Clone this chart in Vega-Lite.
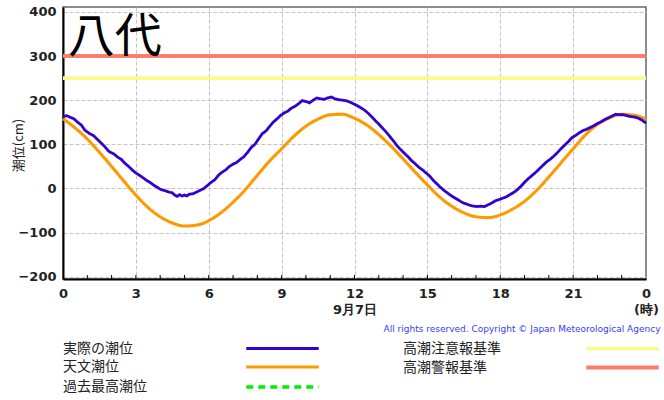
{
  "$schema": "https://vega.github.io/schema/vega-lite/v6.json",
  "width": 583,
  "height": 272,
  "autosize": {"type": "none"},
  "padding": {"left": 63, "top": 7, "right": 18, "bottom": 121},
  "background": "white",
  "datasets": {
    "levels": [
      {"series": "高潮注意報基準", "cm": 250},
      {"series": "高潮警報基準", "cm": 300}
    ],
    "hours": [
      {"hour": 1}, {"hour": 2}, {"hour": 3}, {"hour": 4}, {"hour": 5}, {"hour": 6},
      {"hour": 7}, {"hour": 8}, {"hour": 9}, {"hour": 10}, {"hour": 11}, {"hour": 12},
      {"hour": 13}, {"hour": 14}, {"hour": 15}, {"hour": 16}, {"hour": 17}, {"hour": 18},
      {"hour": 19}, {"hour": 20}, {"hour": 21}, {"hour": 22}, {"hour": 23}
    ],
    "tide": [
      {"series": "天文潮位", "hour": 0, "cm": 158},
      {"series": "天文潮位", "hour": 0.5, "cm": 137},
      {"series": "天文潮位", "hour": 1, "cm": 112},
      {"series": "天文潮位", "hour": 1.5, "cm": 82},
      {"series": "天文潮位", "hour": 2, "cm": 50},
      {"series": "天文潮位", "hour": 2.5, "cm": 17},
      {"series": "天文潮位", "hour": 3, "cm": -15},
      {"series": "天文潮位", "hour": 3.5, "cm": -43},
      {"series": "天文潮位", "hour": 4, "cm": -64},
      {"series": "天文潮位", "hour": 4.5, "cm": -78},
      {"series": "天文潮位", "hour": 5, "cm": -85},
      {"series": "天文潮位", "hour": 5.5, "cm": -83},
      {"series": "天文潮位", "hour": 6, "cm": -73},
      {"series": "天文潮位", "hour": 6.5, "cm": -55},
      {"series": "天文潮位", "hour": 7, "cm": -31},
      {"series": "天文潮位", "hour": 7.5, "cm": -3},
      {"series": "天文潮位", "hour": 8, "cm": 30},
      {"series": "天文潮位", "hour": 8.5, "cm": 62},
      {"series": "天文潮位", "hour": 9, "cm": 90},
      {"series": "天文潮位", "hour": 9.5, "cm": 118},
      {"series": "天文潮位", "hour": 10, "cm": 141},
      {"series": "天文潮位", "hour": 10.5, "cm": 157},
      {"series": "天文潮位", "hour": 11, "cm": 167},
      {"series": "天文潮位", "hour": 11.5, "cm": 168},
      {"series": "天文潮位", "hour": 12, "cm": 159},
      {"series": "天文潮位", "hour": 12.5, "cm": 144},
      {"series": "天文潮位", "hour": 13, "cm": 122},
      {"series": "天文潮位", "hour": 13.5, "cm": 96},
      {"series": "天文潮位", "hour": 14, "cm": 67},
      {"series": "天文潮位", "hour": 14.5, "cm": 37},
      {"series": "天文潮位", "hour": 15, "cm": 8},
      {"series": "天文潮位", "hour": 15.5, "cm": -19},
      {"series": "天文潮位", "hour": 16, "cm": -40},
      {"series": "天文潮位", "hour": 16.5, "cm": -55},
      {"series": "天文潮位", "hour": 17, "cm": -64},
      {"series": "天文潮位", "hour": 17.5, "cm": -66},
      {"series": "天文潮位", "hour": 18, "cm": -60},
      {"series": "天文潮位", "hour": 18.5, "cm": -47},
      {"series": "天文潮位", "hour": 19, "cm": -29},
      {"series": "天文潮位", "hour": 19.5, "cm": -4},
      {"series": "天文潮位", "hour": 20, "cm": 26},
      {"series": "天文潮位", "hour": 20.5, "cm": 58},
      {"series": "天文潮位", "hour": 21, "cm": 90},
      {"series": "天文潮位", "hour": 21.5, "cm": 121},
      {"series": "天文潮位", "hour": 22, "cm": 145},
      {"series": "天文潮位", "hour": 22.5, "cm": 160},
      {"series": "天文潮位", "hour": 23, "cm": 168},
      {"series": "天文潮位", "hour": 23.5, "cm": 166},
      {"series": "天文潮位", "hour": 24, "cm": 157},
      {"series": "実際の潮位", "hour": 0, "cm": 163},
      {"series": "実際の潮位", "hour": 0.15, "cm": 165},
      {"series": "実際の潮位", "hour": 0.3, "cm": 161},
      {"series": "実際の潮位", "hour": 0.45, "cm": 158},
      {"series": "実際の潮位", "hour": 0.6, "cm": 150},
      {"series": "実際の潮位", "hour": 0.75, "cm": 144},
      {"series": "実際の潮位", "hour": 0.9, "cm": 132},
      {"series": "実際の潮位", "hour": 1.0, "cm": 128},
      {"series": "実際の潮位", "hour": 1.1, "cm": 124},
      {"series": "実際の潮位", "hour": 1.25, "cm": 120},
      {"series": "実際の潮位", "hour": 1.4, "cm": 112},
      {"series": "実際の潮位", "hour": 1.55, "cm": 104},
      {"series": "実際の潮位", "hour": 1.7, "cm": 96},
      {"series": "実際の潮位", "hour": 1.85, "cm": 86},
      {"series": "実際の潮位", "hour": 1.95, "cm": 82},
      {"series": "実際の潮位", "hour": 2.1, "cm": 78},
      {"series": "実際の潮位", "hour": 2.25, "cm": 71},
      {"series": "実際の潮位", "hour": 2.4, "cm": 66},
      {"series": "実際の潮位", "hour": 2.55, "cm": 57},
      {"series": "実際の潮位", "hour": 2.7, "cm": 50},
      {"series": "実際の潮位", "hour": 2.85, "cm": 42},
      {"series": "実際の潮位", "hour": 3.0, "cm": 35},
      {"series": "実際の潮位", "hour": 3.15, "cm": 30},
      {"series": "実際の潮位", "hour": 3.3, "cm": 24},
      {"series": "実際の潮位", "hour": 3.45, "cm": 18},
      {"series": "実際の潮位", "hour": 3.6, "cm": 13},
      {"series": "実際の潮位", "hour": 3.75, "cm": 7},
      {"series": "実際の潮位", "hour": 3.9, "cm": 2},
      {"series": "実際の潮位", "hour": 4.05, "cm": -3},
      {"series": "実際の潮位", "hour": 4.2, "cm": -5},
      {"series": "実際の潮位", "hour": 4.35, "cm": -8},
      {"series": "実際の潮位", "hour": 4.5, "cm": -10},
      {"series": "実際の潮位", "hour": 4.6, "cm": -15},
      {"series": "実際の潮位", "hour": 4.7, "cm": -18},
      {"series": "実際の潮位", "hour": 4.8, "cm": -14},
      {"series": "実際の潮位", "hour": 4.9, "cm": -17},
      {"series": "実際の潮位", "hour": 5.0, "cm": -15},
      {"series": "実際の潮位", "hour": 5.1, "cm": -17},
      {"series": "実際の潮位", "hour": 5.2, "cm": -13},
      {"series": "実際の潮位", "hour": 5.35, "cm": -12},
      {"series": "実際の潮位", "hour": 5.5, "cm": -8},
      {"series": "実際の潮位", "hour": 5.65, "cm": -4},
      {"series": "実際の潮位", "hour": 5.8, "cm": 0},
      {"series": "実際の潮位", "hour": 5.95, "cm": 7},
      {"series": "実際の潮位", "hour": 6.1, "cm": 14},
      {"series": "実際の潮位", "hour": 6.25, "cm": 20},
      {"series": "実際の潮位", "hour": 6.4, "cm": 30},
      {"series": "実際の潮位", "hour": 6.55, "cm": 37},
      {"series": "実際の潮位", "hour": 6.7, "cm": 42},
      {"series": "実際の潮位", "hour": 6.85, "cm": 50},
      {"series": "実際の潮位", "hour": 7.0, "cm": 55},
      {"series": "実際の潮位", "hour": 7.15, "cm": 59},
      {"series": "実際の潮位", "hour": 7.3, "cm": 66},
      {"series": "実際の潮位", "hour": 7.45, "cm": 72},
      {"series": "実際の潮位", "hour": 7.6, "cm": 82},
      {"series": "実際の潮位", "hour": 7.75, "cm": 93},
      {"series": "実際の潮位", "hour": 7.9, "cm": 100},
      {"series": "実際の潮位", "hour": 8.05, "cm": 112},
      {"series": "実際の潮位", "hour": 8.2, "cm": 124},
      {"series": "実際の潮位", "hour": 8.35, "cm": 130},
      {"series": "実際の潮位", "hour": 8.5, "cm": 140},
      {"series": "実際の潮位", "hour": 8.65, "cm": 150},
      {"series": "実際の潮位", "hour": 8.8, "cm": 157},
      {"series": "実際の潮位", "hour": 8.95, "cm": 165},
      {"series": "実際の潮位", "hour": 9.1, "cm": 171},
      {"series": "実際の潮位", "hour": 9.25, "cm": 175},
      {"series": "実際の潮位", "hour": 9.4, "cm": 182},
      {"series": "実際の潮位", "hour": 9.55, "cm": 186},
      {"series": "実際の潮位", "hour": 9.7, "cm": 192},
      {"series": "実際の潮位", "hour": 9.85, "cm": 199},
      {"series": "実際の潮位", "hour": 10.0, "cm": 197},
      {"series": "実際の潮位", "hour": 10.15, "cm": 194},
      {"series": "実際の潮位", "hour": 10.3, "cm": 200},
      {"series": "実際の潮位", "hour": 10.45, "cm": 205},
      {"series": "実際の潮位", "hour": 10.6, "cm": 203},
      {"series": "実際の潮位", "hour": 10.75, "cm": 202},
      {"series": "実際の潮位", "hour": 10.9, "cm": 205},
      {"series": "実際の潮位", "hour": 11.05, "cm": 207},
      {"series": "実際の潮位", "hour": 11.2, "cm": 203},
      {"series": "実際の潮位", "hour": 11.35, "cm": 201},
      {"series": "実際の潮位", "hour": 11.5, "cm": 200},
      {"series": "実際の潮位", "hour": 11.65, "cm": 199},
      {"series": "実際の潮位", "hour": 11.8, "cm": 196},
      {"series": "実際の潮位", "hour": 11.95, "cm": 192},
      {"series": "実際の潮位", "hour": 12.1, "cm": 188},
      {"series": "実際の潮位", "hour": 12.25, "cm": 183},
      {"series": "実際の潮位", "hour": 12.4, "cm": 178},
      {"series": "実際の潮位", "hour": 12.55, "cm": 171},
      {"series": "実際の潮位", "hour": 12.7, "cm": 163},
      {"series": "実際の潮位", "hour": 12.85, "cm": 154},
      {"series": "実際の潮位", "hour": 13.0, "cm": 146},
      {"series": "実際の潮位", "hour": 13.15, "cm": 137},
      {"series": "実際の潮位", "hour": 13.3, "cm": 128},
      {"series": "実際の潮位", "hour": 13.45, "cm": 118},
      {"series": "実際の潮位", "hour": 13.6, "cm": 108},
      {"series": "実際の潮位", "hour": 13.75, "cm": 97},
      {"series": "実際の潮位", "hour": 13.9, "cm": 88},
      {"series": "実際の潮位", "hour": 14.05, "cm": 80},
      {"series": "実際の潮位", "hour": 14.2, "cm": 72},
      {"series": "実際の潮位", "hour": 14.35, "cm": 63},
      {"series": "実際の潮位", "hour": 14.5, "cm": 56},
      {"series": "実際の潮位", "hour": 14.65, "cm": 48},
      {"series": "実際の潮位", "hour": 14.8, "cm": 42},
      {"series": "実際の潮位", "hour": 14.95, "cm": 35},
      {"series": "実際の潮位", "hour": 15.1, "cm": 28},
      {"series": "実際の潮位", "hour": 15.25, "cm": 18},
      {"series": "実際の潮位", "hour": 15.4, "cm": 10},
      {"series": "実際の潮位", "hour": 15.55, "cm": 2},
      {"series": "実際の潮位", "hour": 15.7, "cm": -5},
      {"series": "実際の潮位", "hour": 15.85, "cm": -11},
      {"series": "実際の潮位", "hour": 16.0, "cm": -17},
      {"series": "実際の潮位", "hour": 16.15, "cm": -22},
      {"series": "実際の潮位", "hour": 16.3, "cm": -27},
      {"series": "実際の潮位", "hour": 16.45, "cm": -32},
      {"series": "実際の潮位", "hour": 16.6, "cm": -35},
      {"series": "実際の潮位", "hour": 16.75, "cm": -38},
      {"series": "実際の潮位", "hour": 16.9, "cm": -40},
      {"series": "実際の潮位", "hour": 17.05, "cm": -41},
      {"series": "実際の潮位", "hour": 17.2, "cm": -40},
      {"series": "実際の潮位", "hour": 17.35, "cm": -41},
      {"series": "実際の潮位", "hour": 17.5, "cm": -37},
      {"series": "実際の潮位", "hour": 17.65, "cm": -33},
      {"series": "実際の潮位", "hour": 17.8, "cm": -28},
      {"series": "実際の潮位", "hour": 17.95, "cm": -25},
      {"series": "実際の潮位", "hour": 18.1, "cm": -22},
      {"series": "実際の潮位", "hour": 18.25, "cm": -19},
      {"series": "実際の潮位", "hour": 18.4, "cm": -14},
      {"series": "実際の潮位", "hour": 18.55, "cm": -9},
      {"series": "実際の潮位", "hour": 18.7, "cm": -3},
      {"series": "実際の潮位", "hour": 18.85, "cm": 5},
      {"series": "実際の潮位", "hour": 19.0, "cm": 14},
      {"series": "実際の潮位", "hour": 19.15, "cm": 22},
      {"series": "実際の潮位", "hour": 19.3, "cm": 29},
      {"series": "実際の潮位", "hour": 19.45, "cm": 36},
      {"series": "実際の潮位", "hour": 19.6, "cm": 44},
      {"series": "実際の潮位", "hour": 19.75, "cm": 52},
      {"series": "実際の潮位", "hour": 19.9, "cm": 60},
      {"series": "実際の潮位", "hour": 20.05, "cm": 66},
      {"series": "実際の潮位", "hour": 20.2, "cm": 73},
      {"series": "実際の潮位", "hour": 20.35, "cm": 81},
      {"series": "実際の潮位", "hour": 20.5, "cm": 90},
      {"series": "実際の潮位", "hour": 20.65, "cm": 98},
      {"series": "実際の潮位", "hour": 20.8, "cm": 106},
      {"series": "実際の潮位", "hour": 20.95, "cm": 115},
      {"series": "実際の潮位", "hour": 21.1, "cm": 120},
      {"series": "実際の潮位", "hour": 21.25, "cm": 126},
      {"series": "実際の潮位", "hour": 21.4, "cm": 131},
      {"series": "実際の潮位", "hour": 21.55, "cm": 134},
      {"series": "実際の潮位", "hour": 21.7, "cm": 138},
      {"series": "実際の潮位", "hour": 21.85, "cm": 142},
      {"series": "実際の潮位", "hour": 22.0, "cm": 147},
      {"series": "実際の潮位", "hour": 22.15, "cm": 151},
      {"series": "実際の潮位", "hour": 22.3, "cm": 156},
      {"series": "実際の潮位", "hour": 22.45, "cm": 160},
      {"series": "実際の潮位", "hour": 22.6, "cm": 164},
      {"series": "実際の潮位", "hour": 22.75, "cm": 168},
      {"series": "実際の潮位", "hour": 22.9, "cm": 167},
      {"series": "実際の潮位", "hour": 23.05, "cm": 167},
      {"series": "実際の潮位", "hour": 23.2, "cm": 165},
      {"series": "実際の潮位", "hour": 23.35, "cm": 163},
      {"series": "実際の潮位", "hour": 23.5, "cm": 162},
      {"series": "実際の潮位", "hour": 23.65, "cm": 160},
      {"series": "実際の潮位", "hour": 23.8, "cm": 156},
      {"series": "実際の潮位", "hour": 23.9, "cm": 152},
      {"series": "実際の潮位", "hour": 24.0, "cm": 148}
    ]
  },
  "layer": [
    {
      "encoding": {
        "y": {
          "field": "cm",
          "type": "quantitative",
          "scale": {"domain": [-205, 411], "nice": false, "zero": false},
          "axis": {
            "values": [-200, -100, 0, 100, 200, 300, 400],
            "ticks": false,
            "grid": true,
            "labelPadding": 7,
            "title": "潮位(cm)",
            "titleFont": "Noto Sans CJK JP",
            "titleFontSize": 13,
            "titleFontWeight": "normal",
            "titleColor": "#222",
            "titleAngle": -90,
            "titleX": -45,
            "titleY": 138,
            "titleAlign": "center",
            "titleBaseline": "middle"
          }
        },
        "color": {
          "field": "series",
          "type": "nominal",
          "scale": {
            "domain": ["実際の潮位", "天文潮位", "過去最高潮位", "高潮注意報基準", "高潮警報基準"],
            "range": ["#3300cc", "#ff9900", "#00ee00", "#f9f98c", "#ff7b6b"]
          },
          "legend": {
            "orient": "none",
            "legendX": 0,
            "legendY": 332,
            "columns": 2,
            "title": null,
            "symbolType": "M-5,0H5",
            "symbolSize": 210,
            "symbolOffset": 210,
            "labelOffset": -229,
            "columnPadding": 77,
            "rowPadding": 2,
            "labelFont": "Noto Sans CJK JP",
            "labelFontSize": 14,
            "labelColor": "#222",
            "labelLimit": 300
          }
        },
        "strokeDash": {
          "field": "series",
          "type": "nominal",
          "scale": {
            "domain": ["実際の潮位", "天文潮位", "過去最高潮位", "高潮注意報基準", "高潮警報基準"],
            "range": [[1, 0], [1, 0], [7, 5], [1, 0], [1, 0]]
          }
        },
        "strokeWidth": {
          "field": "series",
          "type": "nominal",
          "scale": {
            "domain": ["実際の潮位", "天文潮位", "過去最高潮位", "高潮注意報基準", "高潮警報基準"],
            "range": [2.8, 4, 3, 4, 4]
          }
        }
      },
      "layer": [
        {
          "data": {"name": "levels"},
          "mark": {"type": "rule"}
        },
        {
          "data": {"name": "tide"},
          "encoding": {
            "x": {
              "field": "hour",
              "type": "quantitative",
              "scale": {"domain": [0, 24], "nice": false},
              "axis": {
                "values": [0, 3, 6, 9, 12, 15, 18, 21, 24],
                "labelExpr": "datum.value == 24 ? ['0', '(時)'] : datum.value == 12 ? ['12', '9月7日'] : datum.label",
                "labelFlush": false,
                "labelOverlap": false,
                "labelBound": false,
                "labelLineHeight": 16,
                "labelPadding": 8,
                "ticks": false,
                "gridOpacity": {"condition": {"test": "datum.value == 0 || datum.value == 24", "value": 0}, "value": 1},
                "title": "All rights reserved. Copyright © Japan Meteorological Agency",
                "titleFont": "DejaVu Sans",
                "titleFontSize": 9,
                "titleFontWeight": "normal",
                "titleColor": "#3340ee",
                "titleAlign": "right",
                "titleBaseline": "middle",
                "titleX": 597,
                "titleY": 49
              }
            }
          },
          "layer": [
            {
              "transform": [{"filter": "datum.series == '天文潮位'"}],
              "mark": {"type": "line", "interpolate": "monotone"}
            },
            {
              "transform": [{"filter": "datum.series == '実際の潮位'"}],
              "mark": {"type": "line"}
            }
          ]
        }
      ]
    },
    {
      "data": {"name": "hours"},
      "mark": {"type": "rule", "color": "#000", "strokeWidth": 1},
      "encoding": {
        "x": {"field": "hour", "type": "quantitative"},
        "y": {"datum": -205, "type": "quantitative"},
        "y2": {"datum": -196}
      }
    },
    {
      "data": {"values": [{"place": "八代"}]},
      "mark": {"type": "text", "align": "left", "baseline": "middle", "font": "Noto Sans CJK JP", "fontSize": 47, "color": "#000"},
      "encoding": {
        "x": {"datum": 0.2, "type": "quantitative"},
        "y": {"datum": 340, "type": "quantitative"},
        "text": {"field": "place"}
      }
    }
  ],
  "config": {
    "view": {"stroke": "#666", "strokeWidth": 1.5},
    "axis": {
      "labelFont": "DejaVu Sans",
      "labelFontWeight": "bold",
      "labelFontSize": 13,
      "labelColor": "#222",
      "domainColor": "#000",
      "domainWidth": 2,
      "gridColor": "#c4c4c4",
      "gridDash": [4, 2],
      "gridWidth": 1
    }
  }
}
